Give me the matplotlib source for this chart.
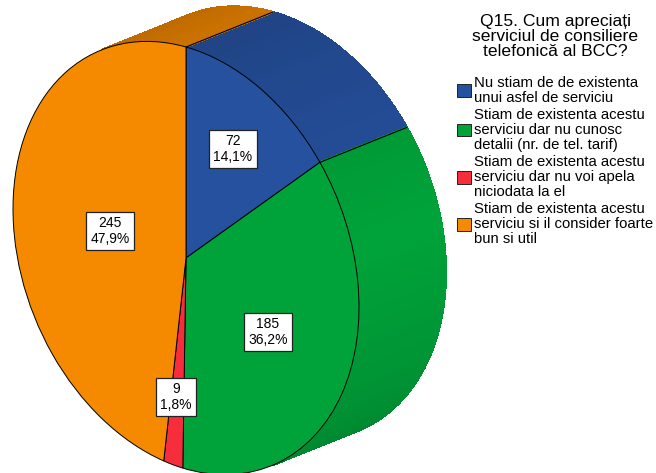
import numpy as np
import matplotlib
matplotlib.use('Agg')
import matplotlib.pyplot as plt
from matplotlib.transforms import Affine2D

plt.rcParams['font.family'] = ['Liberation Sans', 'DejaVu Sans']

title = 'Q15. Cum apreciați\nserviciul de consiliere\ntelefonică al BCC?'
categories = [
    'Nu stiam de de existenta\nunui asfel de serviciu',
    'Stiam de existenta acestu\nserviciu dar nu cunosc\ndetalii (nr. de tel. tarif)',
    'Stiam de existenta acestu\nserviciu dar nu voi apela\nniciodata la el',
    'Stiam de existenta acestu\nserviciu si il consider foarte\nbun si util',
]
counts = [72, 185, 9, 245]
percents = ['14,1%', '36,2%', '1,8%', '47,9%']
colors = ['#26519f', '#00a33a', '#f62d3a', '#f58900']
label_pos = [(233, 149), (268, 332), (176, 397), (110, 231)]

# geometria feliei, in pixeli
cx, cy = 186, 258
qx, qy, py = 173, 49, 211
dx, dy = 87, -35


def edge(theta):
    return cx + qx * np.sin(theta), cy - py * np.cos(theta) + qy * np.sin(theta)


def shade(col, theta):
    deg = np.degrees(theta)
    deg = (deg + 180) % 360 - 180
    k = 1 - 0.25 * min(abs(deg - 75) / 110, 1.1)
    return tuple(c * k for c in matplotlib.colors.to_rgb(col))


fig = plt.figure(figsize=(6.56, 4.73), dpi=100)
ax = fig.add_axes([0, 0, 1, 1])

# partea laterala
bounds = np.cumsum([0] + counts) / sum(counts) * 2 * np.pi
for i in range(len(counts)):
    ts = np.linspace(bounds[i], bounds[i + 1], int(counts[i] / 3) + 3)
    for t0, t1 in zip(ts[:-1], ts[1:]):
        tm = (t0 + t1) / 2
        # doar ce se vede din fata
        vis = (qx * np.cos(tm)) * dy - (py * np.sin(tm) + qy * np.cos(tm)) * dx
        if vis > 0:
            continue
        x0, y0 = edge(t0)
        x1, y1 = edge(t1)
        c = shade(colors[i], tm)
        ax.fill([x0, x1, x1 + dx, x0 + dx], [y0, y1, y1 + dy, y0 + dy],
                color=c, lw=0.8, antialiased=False, zorder=1)
for b in bounds[:2]:
    x0, y0 = edge(b)
    ax.plot([x0, x0 + dx], [y0, y0 + dy], color='black', lw=0.8, zorder=2)

# fata
wedges, _ = ax.pie(counts, colors=colors, startangle=90, counterclock=False,
                   wedgeprops={'edgecolor': 'black', 'linewidth': 0.7})
skew = Affine2D.from_values(qx, qy, 0, -py, cx, cy)
for w in wedges:
    w.set_transform(skew + ax.transData)
    w.set_zorder(3)

ax.set_aspect('auto')
ax.set_xlim(0, 656)
ax.set_ylim(473, 0)
ax.axis('off')

for n, p, pos in zip(counts, percents, label_pos):
    ax.text(pos[0], pos[1], f'{n}\n{p}', ha='center', va='center', fontsize=10,
            linespacing=1.1, zorder=5,
            bbox=dict(facecolor='white', edgecolor='#222222', lw=0.9, pad=3))

leg = ax.legend(wedges, categories, title=title, frameon=False, loc='upper left',
                bbox_to_anchor=(457 / 656, 1 - 14 / 473), fontsize=10.7,
                title_fontsize=12.6, handlelength=0.95, handleheight=0.95,
                handletextpad=0.2, labelspacing=0.22, borderpad=0, borderaxespad=0)
leg.get_title().set_linespacing(1.0)
leg.get_title().set_multialignment('center')
leg._legend_box.sep = 12
for t in leg.get_texts():
    t.set_linespacing(1.08)
for h in leg.get_patches():
    h.set_edgecolor('#222222')

fig.savefig('out.png', dpi=100)
